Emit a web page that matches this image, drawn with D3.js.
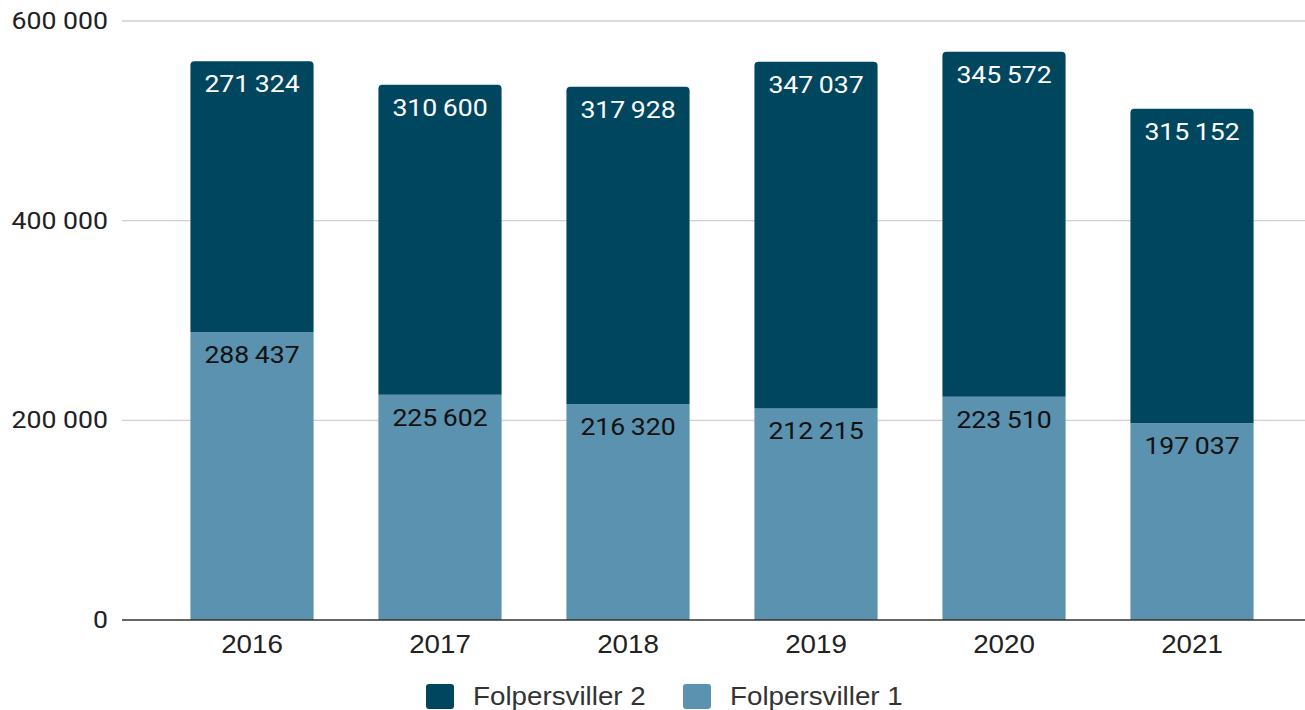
<!DOCTYPE html>
<html>
<head>
<meta charset="utf-8">
<script src="https://cdn.jsdelivr.net/npm/d3@7"></script>
<style>
  body { margin: 0; background: #fff; }
</style>
</head>
<body>
<svg id="chart"></svg>
<script>
var years = ["2016", "2017", "2018", "2019", "2020", "2021"];
var folp1 = [288437, 225602, 216320, 212215, 223510, 197037];
var folp2 = [271324, 310600, 317928, 347037, 345572, 315152];
var seriesNames = ["Folpersviller 1", "Folpersviller 2"];
var yTicks = [0, 200000, 400000, 600000];

var W = 1305, H = 710;
var darkColor = "#01465f";
var lightColor = "#5a92b0";
var stretch = 1.11; // the text in the original is a bit wide

var svg = d3.select("#chart").attr("width", W).attr("height", H);

// thin space as thousands separator
var loc = d3.formatLocale({ decimal: ",", thousands: "\u2009", grouping: [3], currency: ["", ""] });
var fmt = loc.format(",d");

var x = d3.scaleBand().domain(years).range([158, 1286]).paddingInner(0.345).paddingOuter(0.1725);
var y = d3.scaleLinear().domain([0, 600000]).range([620, 21]);

function place(px, py) {
    return "translate(" + px + "," + py + ") scale(" + stretch + ",1)";
}

// grid
svg.append("g").selectAll("line")
    .data(yTicks.filter(function (d) { return d > 0; }))
    .enter().append("line")
    .attr("x1", 122).attr("x2", W)
    .attr("y1", function (d) { return y(d); })
    .attr("y2", function (d) { return y(d); })
    .attr("stroke", "#cfcfcf").attr("stroke-width", 1.3);

// y labels
svg.append("g").selectAll("text")
    .data(yTicks)
    .enter().append("text")
    .attr("transform", function (d) { return place(108, y(d) + 8); })
    .attr("text-anchor", "end")
    .attr("font-family", "Roboto, sans-serif")
    .attr("font-size", 24)
    .attr("fill", "#222")
    .text(function (d) { return d === 0 ? "0" : fmt(d).replace("\u2009", " "); });

var stack = d3.stack().keys(["a", "b"])(years.map(function (yr, i) {
    return { year: yr, a: folp1[i], b: folp2[i] };
}));

function topRounded(x0, y0, w, h, r) {
    return "M" + x0 + "," + (y0 + h) +
        "V" + (y0 + r) +
        "Q" + x0 + "," + y0 + " " + (x0 + r) + "," + y0 +
        "H" + (x0 + w - r) +
        "Q" + (x0 + w) + "," + y0 + " " + (x0 + w) + "," + (y0 + r) +
        "V" + (y0 + h) + "Z";
}

// light (bottom) bars
svg.append("g").selectAll("rect")
    .data(stack[0])
    .enter().append("rect")
    .attr("x", function (d) { return x(d.data.year); })
    .attr("y", function (d) { return y(d[1]); })
    .attr("width", x.bandwidth())
    .attr("height", function (d) { return y(d[0]) - y(d[1]); })
    .attr("fill", lightColor);

// dark (top) bars
svg.append("g").selectAll("path")
    .data(stack[1])
    .enter().append("path")
    .attr("d", function (d) {
        return topRounded(x(d.data.year), y(d[1]), x.bandwidth(), y(d[0]) - y(d[1]), 4);
    })
    .attr("fill", darkColor);

// value labels
svg.append("g").selectAll("text")
    .data(stack[1])
    .enter().append("text")
    .attr("transform", function (d) { return place(x(d.data.year) + x.bandwidth() / 2, y(d[1]) + 31); })
    .attr("text-anchor", "middle")
    .attr("font-family", "Roboto, sans-serif")
    .attr("font-size", 24)
    .attr("fill", "#fff")
    .text(function (d) { return fmt(d.data.b); });

svg.append("g").selectAll("text")
    .data(stack[0])
    .enter().append("text")
    .attr("transform", function (d) { return place(x(d.data.year) + x.bandwidth() / 2, y(d[1]) + 31); })
    .attr("text-anchor", "middle")
    .attr("font-family", "Roboto, sans-serif")
    .attr("font-size", 24)
    .attr("fill", "#111")
    .text(function (d) { return fmt(d.data.a); });

// baseline
svg.append("line")
    .attr("x1", 122).attr("x2", W)
    .attr("y1", y(0)).attr("y2", y(0))
    .attr("stroke", "#333").attr("stroke-width", 1.5);

// x labels
svg.append("g").selectAll("text")
    .data(years)
    .enter().append("text")
    .attr("transform", function (d) { return place(x(d) + x.bandwidth() / 2, 653); })
    .attr("text-anchor", "middle")
    .attr("font-family", "'Liberation Sans', Arial, sans-serif")
    .attr("font-size", 25)
    .attr("fill", "#222")
    .text(function (d) { return d; });

// legend
var legendItems = [
    { name: seriesNames[1], color: darkColor, x: 426 },
    { name: seriesNames[0], color: lightColor, x: 683 }
];
var lg = svg.append("g").selectAll("g")
    .data(legendItems)
    .enter().append("g")
    .attr("transform", function (d) { return "translate(" + d.x + ",684)"; });
lg.append("rect")
    .attr("width", 28).attr("height", 25).attr("rx", 3)
    .attr("fill", function (d) { return d.color; });
lg.append("text")
    .attr("transform", place(47, 21))
    .attr("font-family", "'Liberation Sans', Arial, sans-serif")
    .attr("font-size", 25)
    .attr("fill", "#333")
    .text(function (d) { return d.name; });
</script>
</body>
</html>
